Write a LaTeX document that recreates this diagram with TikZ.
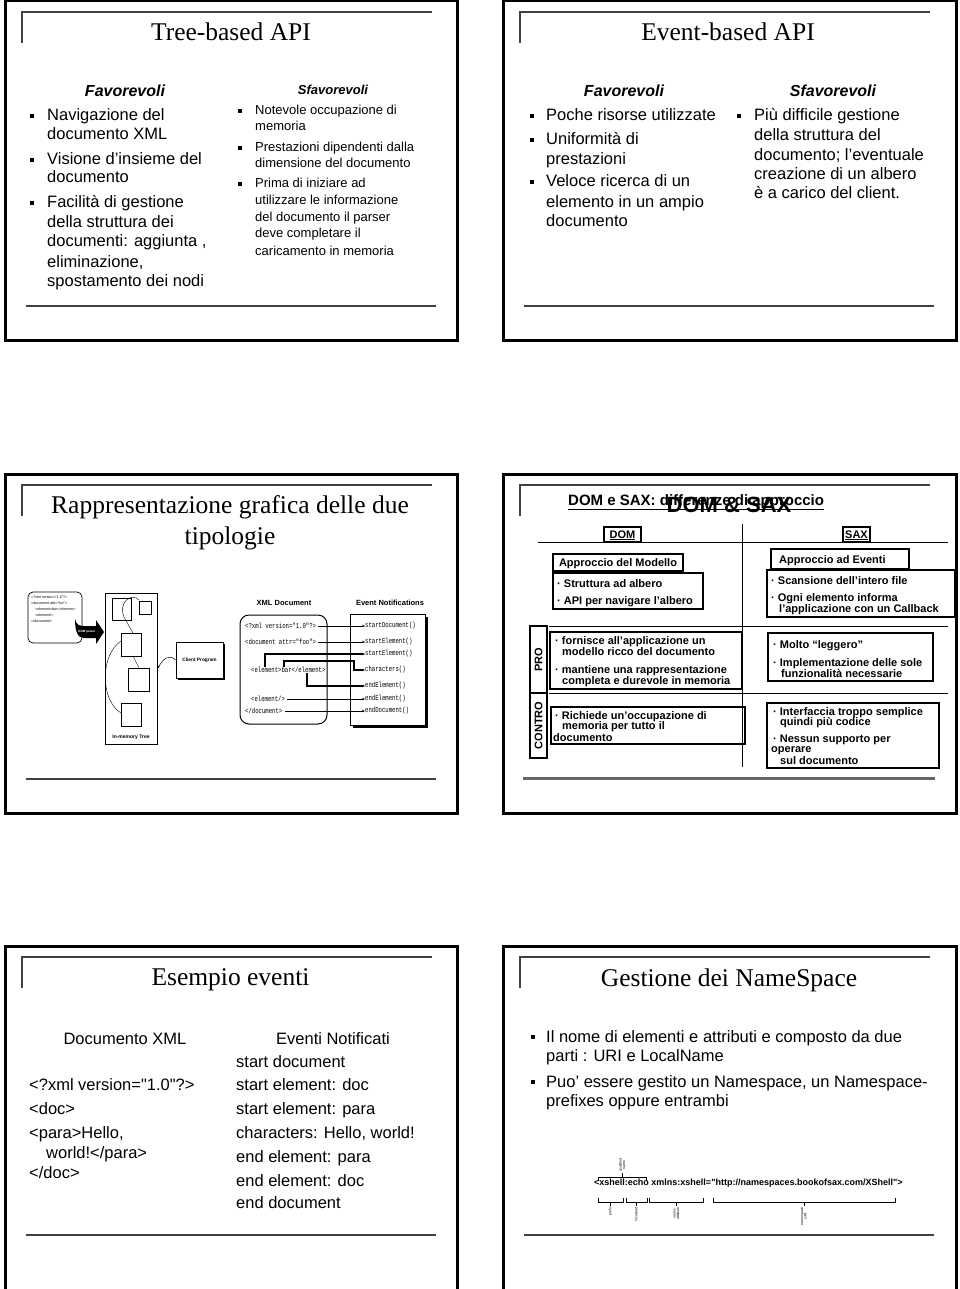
\documentclass[tikz,border=0pt]{standalone}
\usepackage{fontspec}
\setmainfont{Liberation Sans}[Ligatures=TeXOff]
\newfontfamily\serf{Liberation Serif}[Ligatures=TeXOff]
\newfontfamily\cmono{Liberation Mono}[FakeStretch=0.75,Ligatures=TeXOff]
\usetikzlibrary{arrows.meta,shadows}
\newcommand\fsz[1]{\fontsize{#1}{#1}\selectfont}
\newcounter{tn}
\newcommand\Tx[3]{\stepcounter{tn}\node[tx,#1] (t\arabic{tn}) at (#2) {#3};}
\newcommand\Bsq[3]{\fill (#1-#3,#2-#3) rectangle (#1+#3,#2+#3);}
\newcommand\qq{\symbol{34}}
\newcommand\Bxx[6][]{\node[draw,inner sep=0pt,minimum width={#5-#3},minimum height={#6-#4},#1] (#2) at ({(#3+#5)/2},{(#4+#6)/2}) {};}
\newcommand\Slide[5]{\draw[frame] (#1,#2) rectangle (#3,#4);
  \draw[rule] (#1+17,#2+42) -- (#1+17,#2+11) -- (#1+427,#2+11);
  \draw[rule] (#1+21,#5) -- (#1+431,#5);}
\begin{document}
\begin{tikzpicture}[x=1pt,y=-1pt,
  tx/.style={anchor=base west,inner sep=0pt},
  ttl/.style={anchor=base,font=\serf\fsz{25.5}},
  hd/.style={anchor=base,font=\fsz{16}\bfseries\itshape},
  big/.style={font=\fsz{16.5}},
  sml/.style={font=\fsz{13}},
  tb/.style={font=\fsz{11}\bfseries},
  bt/.style={font=\fsz{16.5}},
  frame/.style={line width=3pt},
  rule/.style={line width=1.3pt,black!75},
  tbx/.style={line width=1.1pt},
  tline/.style={line width=1pt},
  arr/.style={-{Stealth[length=3pt,width=2.5pt]},line width=0.5pt},
  cmtx/.style={font=\cmono\fsz{7.5},anchor=west,inner sep=0pt},
  brk/.style={line width=0.6pt},
  lbl/.style={font=\fsz{3.5},inner sep=0pt,rotate=90,align=center},
]
\clip (0,0) rectangle (960,1289);
\fill[white] (0,0) rectangle (960,1289);

% ---------- slide frames
\Slide{5}{1}{457}{340}{306}
\Slide{503}{1}{956}{340}{306}
\Slide{5}{474}{457}{813}{779}
\draw[frame] (503,474) rectangle (956,813);
\draw[rule] (520,516) -- (520,485) -- (930,485);
\draw[line width=3pt,black!60] (523,778.5) -- (935,778.5);
\Slide{5}{946}{457}{1300}{1235}
\Slide{503}{946}{956}{1300}{1235}

% ---------- Tree-based API
\Tx{ttl}{231,41}{Tree-based API}
\Tx{hd}{125,97}{Favorevoli}
\Tx{hd,font=\fsz{13}\bfseries\itshape}{333,95}{Sfavorevoli}
\Bsq{32}{116}{2.3}\Bsq{32}{160}{2.3}\Bsq{32}{203}{2.3}
\Tx{big}{47,121}{Navigazione del}
\Tx{big}{47,140}{documento XML}
\Tx{big}{47,165}{Visione d’insieme del}
\Tx{big}{47,183}{documento}
\Tx{big}{47,208}{Facilità di gestione}
\Tx{big}{47,228}{della struttura dei}
\Tx{big}{47,247}{documenti: aggiunta ,}
\Tx{big}{47,267}{eliminazione,}
\Tx{big}{47,286}{spostamento dei nodi}
\Bsq{240}{111}{1.8}\Bsq{240}{148}{1.8}\Bsq{240}{184}{1.8}
\Tx{sml}{255,115}{Notevole occupazione di}
\Tx{sml}{255,131}{memoria}
\Tx{sml}{255,152}{Prestazioni dipendenti dalla}
\Tx{sml}{255,168}{dimensione del documento}
\Tx{sml}{255,188}{Prima di iniziare ad}
\Tx{sml}{255,205}{utilizzare le informazione}
\Tx{sml}{255,222}{del documento il parser}
\Tx{sml}{255,238}{deve completare il}
\Tx{sml}{255,255}{caricamento in memoria}

% ---------- Event-based API
\Tx{ttl}{728,41}{Event-based API}
\Tx{hd}{624,97}{Favorevoli}
\Tx{hd}{833,97}{Sfavorevoli}
\Bsq{532}{116}{2.3}\Bsq{532}{140}{2.3}\Bsq{532}{182}{2.3}
\Tx{big}{546,121}{Poche risorse utilizzate}
\Tx{big}{546,145}{Uniformità di}
\Tx{big}{546,165}{prestazioni}
\Tx{big}{546,187}{Veloce ricerca di un}
\Tx{big}{546,208}{elemento in un ampio}
\Tx{big}{546,227}{documento}
\Bsq{739}{116}{2.3}
\Tx{big}{754,121}{Più difficile gestione}
\Tx{big}{754,141}{della struttura del}
\Tx{big}{754,161}{documento; l’eventuale}
\Tx{big}{754,180}{creazione di un albero}
\Tx{big}{754,199}{è a carico del client.}

% ---------- Rappresentazione grafica
\Tx{ttl}{230,513}{Rappresentazione grafica delle due}
\Tx{ttl}{230,544}{tipologie}
% DOM side
\node[draw,rounded corners=5pt,line width=0.7pt,minimum width=54,minimum height=51,inner sep=0pt] (xdoc) at (55,617.5) {};
\Tx{font=\fsz{3.6}}{31,598}{<?xml version=\qq 1.0\qq ?>}
\Tx{font=\fsz{3.6}}{31,604}{<document attr=\qq foo\qq >}
\Tx{font=\fsz{3.6}}{35,610}{<element>bar</element>}
\Tx{font=\fsz{3.6}}{35,616}{<element/>}
\Tx{font=\fsz{3.6}}{31,622}{</document>}
\fill (75,619) .. controls (76,625) and (80,626) .. (84,626) -- (96,626) -- (96,620) -- (104,632) -- (96,644) -- (96,638) -- (84,638) .. controls (78,638) and (75,632) .. (75,619) -- cycle;
\node[font=\fsz{3}\bfseries,text=white,inner sep=0pt] (domp) at (87,632) {DOM parser};
\node[draw,line width=0.7pt,minimum width=52,minimum height=151,inner sep=0pt] (tree) at (131,668.5) {};
\draw[line width=0.5pt] (112,598) rectangle (131,620);
\draw[line width=0.8pt] (139,601) rectangle (151,614);
\draw[line width=0.5pt] (121,633) rectangle (141,656);
\draw[line width=0.5pt] (128,668) rectangle (149,691);
\draw[line width=0.5pt] (121,703) rectangle (141,726);
\draw[line width=0.4pt] (139,600) .. controls (131,592) and (118,603) .. (124,617) -- (133,633);
\draw[line width=0.4pt] (133,656) -- (139,668);
\draw[line width=0.4pt] (121,641) .. controls (100,655) and (100,700) .. (121,713);
\Tx{font=\fsz{5}\bfseries,anchor=base}{131,738}{In-memory Tree}
\node[draw,line width=0.7pt,fill=white,minimum width=47,minimum height=36,inner sep=0pt,font=\fsz{4.8}\bfseries,
  drop shadow={shadow xshift=2pt,shadow yshift=-2pt,opacity=1,fill=black}] (client) at (199.5,660) {Client Program};
\draw[-{Stealth[length=3pt,width=2.5pt]},line width=0.5pt] (client.west) .. controls (168,653) and (163,660) .. (tree.east);
% SAX side
\Tx{font=\fsz{7.5}\bfseries,anchor=base}{284,605}{XML Document}
\Tx{font=\fsz{7.5}\bfseries,anchor=base}{390,605}{Event Notifications}
\node[draw,rounded corners=9pt,line width=1pt,minimum width=87,minimum height=109,inner sep=0pt] (sdoc) at (283.5,669.5) {};
\node[draw,line width=1pt,fill=white,minimum width=75,minimum height=111,inner sep=0pt,
  drop shadow={shadow xshift=3pt,shadow yshift=-3pt,opacity=1,fill=black}] (evn) at (387.5,669.5) {};
\node[cmtx] (L1) at (245,626) {<?xml version=\qq 1.0\qq ?>};
\node[cmtx] (L2) at (245,642) {<document attr=\qq foo\qq >};
\node[cmtx] (L3) at (251,670) {<element>bar</element>};
\node[cmtx] (L4) at (251,699) {<element/>};
\node[cmtx] (L5) at (245,711) {</document>};
\node[cmtx] (R1) at (365,626) {startDocument()};
\node[cmtx] (R2) at (365,642) {startElement()};
\node[cmtx] (R3) at (365,654) {startElement()};
\node[cmtx] (R4) at (365,670) {characters()};
\node[cmtx] (R5) at (365,686) {endElement()};
\node[cmtx] (R6) at (365,699) {endElement()};
\node[cmtx] (R7) at (365,711) {endDocument()};
\draw[arr,shorten <=2pt] (R1.west -| L1.east) -- (R1.west);
\draw[arr,shorten <=2pt] (R2.west -| L2.east) -- (R2.west);
\draw[arr,shorten <=2pt] (R6.west -| L4.east) -- (R6.west);
\draw[arr,shorten <=2pt] (R7.west -| L5.east) -- (R7.west);
\coordinate (c1) at (354,661);
\draw[arr,line width=1.1pt] ([xshift=14pt]L3.north west) |- (R3.west);
\draw[arr,line width=1.1pt] ([xshift=33pt]L3.north west) |- (c1) |- (R4.west);
\draw[arr,line width=1.1pt] ([xshift=56pt]L3.south west) |- (R5.west);

% ---------- DOM & SAX
\Tx{font=\fsz{15}\bfseries}{568,505}{\underline{DOM e SAX: differenze di approccio}}
\Tx{font=\fsz{22}\bfseries,anchor=base}{729,512}{DOM \& SAX}
\draw[tline] (538,542) -- (948,542);
\draw[tline] (742,524) -- (742,767);
\draw[tline] (549,626) -- (948,626);
\draw[tline] (549,693) -- (948,693);
\Bxx[tbx]{domb}{604}{527}{641}{542}
\Tx{tb,anchor=base}{622.5,538}{\underline{DOM}}
\Bxx[tbx]{saxb}{843}{527}{870}{542}
\Tx{tb,anchor=base}{856.5,538}{\underline{SAX}}
\Bxx[tbx]{apm}{553}{554}{683}{571}
\Tx{tb,anchor=base}{618,566}{Approccio del Modello}
\Bxx[tbx]{domf}{553}{573}{703}{609}
\Tx{tb}{557,587}{· Struttura ad albero}
\Tx{tb}{557,604}{· API per navigare l’albero}
\Bxx[tbx]{ape}{771}{549}{909}{569}
\Tx{tb}{779,563}{Approccio ad Eventi}
\Bxx[tbx]{saxf}{767}{570}{955}{617}
\Tx{tb}{771,584}{· Scansione dell’intero file}
\Tx{tb}{771,601}{· Ogni elemento informa}
\Tx{tb}{779,612}{l’applicazione con un Callback}
\node[draw,tbx,rotate=90,minimum width=67,minimum height=17,inner sep=0pt,font=\fsz{11}\bfseries] (pro) at (538.5,659.5) {PRO};
\node[draw,tbx,rotate=90,minimum width=65,minimum height=17,inner sep=0pt,font=\fsz{11}\bfseries] (contro) at (538.5,725.5) {CONTRO};
\Bxx[tbx]{prodom}{550}{632}{742}{689}
\Tx{tb}{555,644}{· fornisce all’applicazione un}
\Tx{tb}{562,655}{modello ricco del documento}
\Tx{tb}{555,673}{· mantiene una rappresentazione}
\Tx{tb}{562,684}{completa e durevole in memoria}
\Bxx[tbx]{prosax}{768}{633}{933}{681}
\Tx{tb}{773,648}{· Molto “leggero”}
\Tx{tb}{773,666}{· Implementazione delle sole}
\Tx{tb}{781,677}{funzionalità necessarie}
\Bxx[tbx]{condom}{551}{707}{745}{744}
\Tx{tb}{555,719}{· Richiede un’occupazione di}
\Tx{tb}{562,729}{memoria per tutto il}
\Tx{tb}{553,741}{documento}
\Bxx[tbx]{consax}{767}{703}{939}{768}
\Tx{tb}{773,715}{· Interfaccia troppo semplice}
\Tx{tb}{780,725}{quindi più codice}
\Tx{tb}{773,742}{· Nessun supporto per}
\Tx{tb}{771,752}{operare}
\Tx{tb}{780,764}{sul documento}

% ---------- Esempio eventi
\Tx{ttl}{230.5,985}{Esempio eventi}
\Tx{bt,anchor=base}{125,1044}{Documento XML}
\Tx{bt,anchor=base}{333,1044}{Eventi Notificati}
\Tx{bt}{29,1090}{<?xml version=\qq 1.0\qq ?>}
\Tx{bt}{29,1114}{<doc>}
\Tx{bt}{29,1138}{<para>Hello,}
\Tx{bt}{46,1158}{world!</para>}
\Tx{bt}{29,1178}{</doc>}
\Tx{bt}{236,1067}{start document}
\Tx{bt}{236,1090}{start element: doc}
\Tx{bt}{236,1114}{start element: para}
\Tx{bt}{236,1138}{characters: Hello, world!}
\Tx{bt}{236,1162}{end element: para}
\Tx{bt}{236,1186}{end element: doc}
\Tx{bt}{236,1208}{end document}

% ---------- Gestione dei NameSpace
\Tx{ttl}{729,986}{Gestione dei NameSpace}
\Bsq{533}{1037}{2.3}\Bsq{533}{1082}{2.3}
\Tx{bt}{546,1042}{Il nome di elementi e attributi e composto da due}
\Tx{bt}{546,1061}{parti : URI e LocalName}
\Tx{bt}{546,1087}{Puo’ essere gestito un Namespace, un Namespace-}
\Tx{bt}{546,1106}{prefixes oppure entrambi}
\node[font=\fsz{9}\bfseries,anchor=base west,inner sep=0pt] (nsx) at (594,1185) {<xshell:echo xmlns:xshell=\qq http://namespaces.bookofsax.com/XShell\qq >};
\draw[brk] (598,1181) -- (598,1177) -- (646,1177) -- (646,1181);
\draw[brk] (622,1177) -- (622,1173);
\node[lbl,anchor=west] (qn) at (622,1172) {qualified\\name};
\foreach \a/\b/\nm/\lab in {598/623/pf/prefix,626/647/lp/local part,649/703/xa/{xmlns\\attribute},713/895/nu/{namespace\\URI}}{
  \draw[brk] (\a,1198) -- (\a,1202) -- (\b,1202) -- (\b,1198);
  \draw[brk] ({(\a+\b)/2},1202) -- ++(0,4);
  \node[lbl,anchor=east] (\nm) at ({(\a+\b)/2},1207) {\lab};
}
\end{tikzpicture}
\end{document}
